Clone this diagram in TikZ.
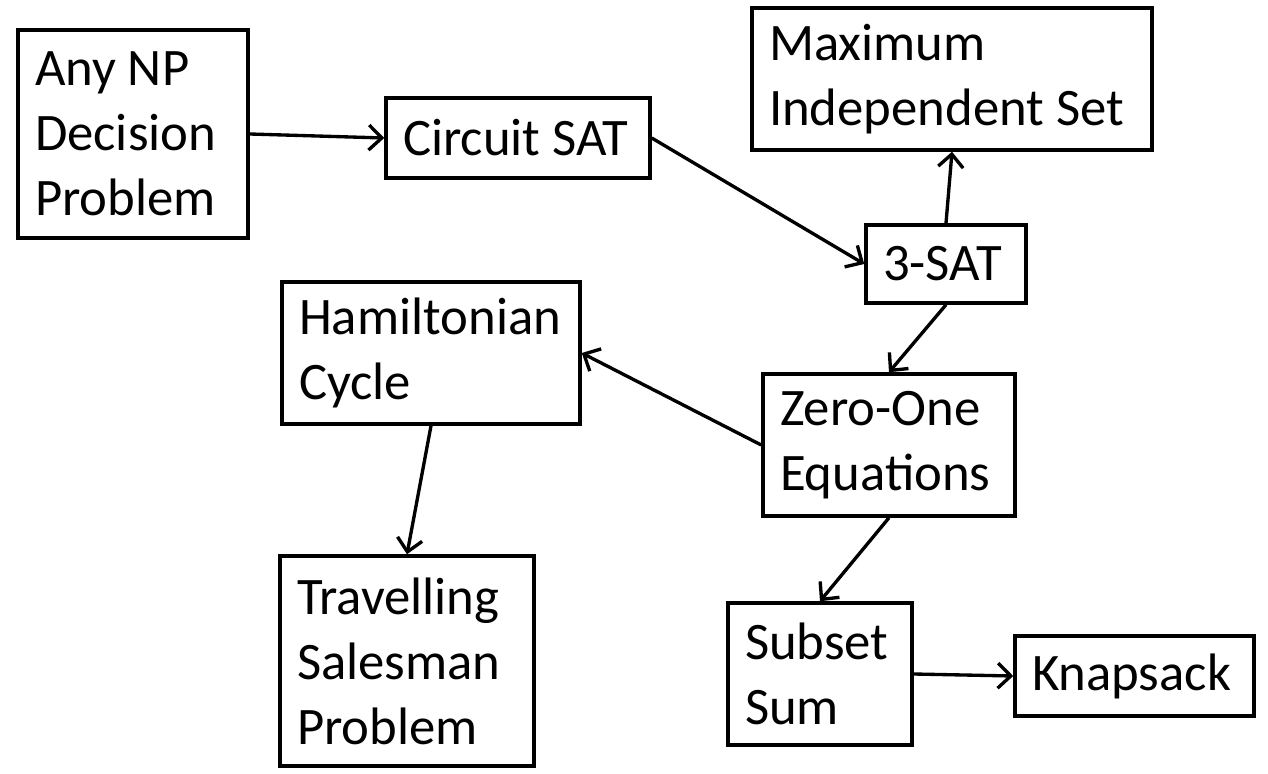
\documentclass[tikz,border=0pt]{standalone}
\usepackage{fontspec}
\setmainfont{Carlito}
\usepackage{tikz}
\usetikzlibrary{arrows.meta,positioning}
\tikzstyle{block} = [draw, line width=2pt, align=flush left, inner xsep=0.34cm, inner ysep=0pt, font=\fontsize{30}{37}\selectfont]
\tikzstyle{arrow} = [-{Straight Barb[length=2.6mm,width=5mm]}, line width=1.9pt]

\begin{document}
\begin{tikzpicture}
\useasboundingbox (0,0) rectangle (25.36,15.46);

\node[block, text width=3.92cm, minimum height=4.16cm] (anynp) at (2.66,12.78) {Any NP\\Decision\\Problem};
\node[block, text width=4.6cm, minimum height=1.6cm] (circsat) at (10.36,12.70) {Circuit SAT};
\node[block, text width=7.32cm, minimum height=2.84cm] (maxis) at (19.04,13.88) {Maximum\\Independent Set};
\node[block, text width=2.52cm, minimum height=1.56cm] (threesat) at (18.92,10.18) {3-SAT};
\node[block, text width=5.28cm, minimum height=2.84cm] (hamcyc) at (8.62,8.40) {Hamiltonian\\Cycle};
\node[block, text width=4.36cm, minimum height=2.84cm] (zeroone) at (17.78,6.56) {Zero-One\\Equations};
\node[block, text width=4.4cm, minimum height=4.2cm] (tsp) at (8.14,2.24) {Travelling\\Salesman\\Problem};
\node[block, text width=3.0cm, minimum height=2.84cm] (subsum) at (16.40,1.98) {Subset\\Sum};
\node[block, text width=4.1cm, minimum height=1.6cm] (knap) at (22.69,1.94) {Knapsack};

\draw[arrow] (anynp.east) -- (circsat.west);
\draw[arrow] (circsat.east) -- (threesat.west);
\draw[arrow] (threesat.north) -- (maxis.south);
\draw[arrow] (threesat.south) -- (zeroone.north);
\draw[arrow] (zeroone.west) -- (hamcyc.east);
\draw[arrow] (hamcyc.south) -- (tsp.north);
\draw[arrow] (zeroone.south) -- (subsum.north);
\draw[arrow] (subsum.east) -- (knap.west);
\end{tikzpicture}
\end{document}
